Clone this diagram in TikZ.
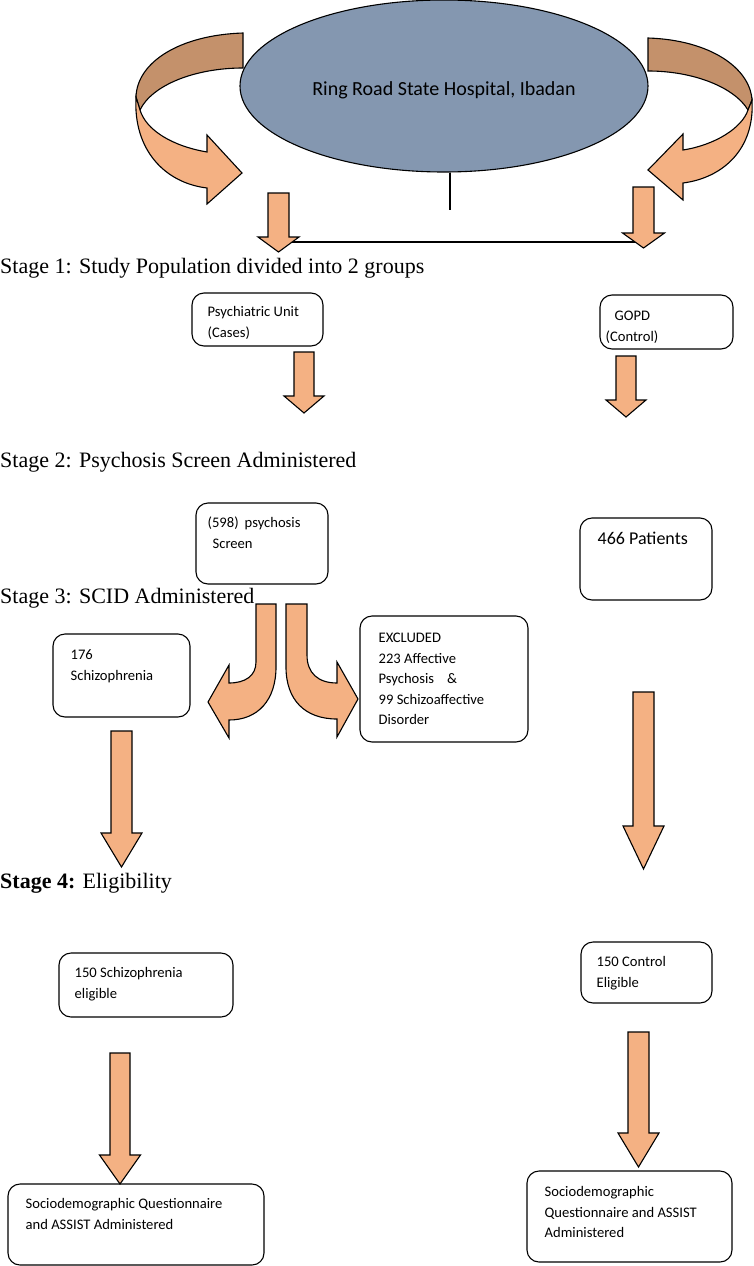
\documentclass[tikz,border=0pt]{standalone}
\usepackage{fontspec}
\setmainfont{Liberation Serif}
\newfontfamily\calibri{Carlito}
\usetikzlibrary{shapes.geometric}
\definecolor{hospblue}{HTML}{8497B0}
\definecolor{arrowfill}{HTML}{F4B183}
\definecolor{arrowback}{HTML}{C4916B}
% straight block arrow: x, top, head start, tip, half shaft, half head
\newcommand{\blockdown}[6]{\filldraw[blockarrow] (#1-#5,#2) -- (#1+#5,#2) -- (#1+#5,#3) -- (#1+#6,#3) -- (#1,#4) -- (#1-#6,#3) -- (#1-#5,#3) -- cycle;}
\tikzset{
  blockarrow/.style={fill=arrowfill,draw=black,line width=1.1pt,line join=miter},
  bandback/.style={fill=arrowback,draw=black,line width=1.1pt},
  stepbox/.style={draw,rounded corners=12pt,line width=1.1pt,inner sep=0pt},
  boxtext/.style={font=\calibri\fontsize{14.6}{20.5}\selectfont,align=left,inner sep=0pt,anchor=north west},
  stagetext/.style={font=\fontsize{22}{26}\selectfont,inner sep=0pt,anchor=base west}
}
\begin{document}
\begin{tikzpicture}[x=1pt,y=-1pt]
\useasboundingbox (0,0) rectangle (753,1266);
% hospital and the two curved arrows
\node[draw,ellipse,fill=hospblue,minimum width=408pt,minimum height=172pt,inner sep=0pt,line width=1.1pt,font=\calibri\fontsize{20}{24}\selectfont] (hospital) at (444,86) {\raisebox{-9pt}[0pt][0pt]{Ring Road State Hospital, Ibadan}};
\filldraw[bandback] (243,33) .. controls (180,35) and (137,62) .. (136,97) -- (140,110) .. controls (152,85) and (195,68) .. (243,68) -- cycle;
\filldraw[blockarrow] (136,97) .. controls (133,150) and (165,183) .. (207,188) -- (207,204) -- (242,173) -- (207,135) -- (207,152) .. controls (172,146) and (146,130) .. (140,110) -- cycle;
\filldraw[bandback] (648,38) .. controls (710,40) and (750,68) .. (752,100) -- (748,110) .. controls (735,88) and (695,71) .. (648,71) -- cycle;
\filldraw[blockarrow] (752,100) .. controls (755,150) and (722,178) .. (683,183) -- (683,200) -- (648,170) -- (683,134) -- (683,150) .. controls (715,145) and (742,128) .. (748,110) -- cycle;
% split line
\coordinate (split) at (450,210);
\draw[line width=1.1pt] (hospital.south -| split) -- (split);
\coordinate (leftbar) at (292,242);
\coordinate (rightbar) at (635,242);
\draw[line width=1.1pt] (leftbar) -- (rightbar);
\blockdown{278.5}{193}{237}{252}{10.5}{20.5}
\blockdown{643.5}{187}{233}{248}{10.5}{21}
% stages
\node[stagetext] (stage1) at (0,273) {Stage 1: Study Population divided into 2 groups};
\node[stagetext] (stage2) at (0,467) {Stage 2: Psychosis Screen Administered};
\node[stagetext] (stage3) at (0,603) {Stage 3: SCID Administered};
\node[stagetext] (stage4) at (0,888) {\textbf{Stage 4:} Eligibility};
% boxes
\node[stepbox,minimum width=131pt,minimum height=53pt] (psych) at (257.5,319.5) {};
\node[boxtext] (psychtext) at ([shift={(16,9.65)}]psych.north west) {\strut Psychiatric Unit\\(Cases)};
\node[stepbox,minimum width=133pt,minimum height=54pt] (gopd) at (666.5,322) {};
\node[boxtext] (gopdtext) at ([shift={(6,11.65)}]gopd.north west) {\strut\hspace*{9pt}GOPD\\(Control)};
\blockdown{304}{352}{396}{413}{10}{20}
\blockdown{626}{356}{400}{417}{10}{20}
\node[stepbox,minimum width=132pt,minimum height=81pt] (screen) at (262,543.5) {};
\node[boxtext] (screentext) at ([shift={(12,10.65)}]screen.north west) {\strut(598)\hspace{6pt}psychosis\\\hspace*{5pt}Screen};
\node[stepbox,minimum width=132pt,minimum height=82pt] (patients) at (646,559) {};
\node[boxtext,font=\calibri\fontsize{18}{20.5}\selectfont] (patientstext) at ([shift={(18,12.5)}]patients.north west) {\strut 466 Patients};
% curved arrows out of the screen
\filldraw[blockarrow] (256,604) -- (256,662) .. controls (256,676) and (245,683) .. (229,683) -- (229,665) -- (208,702) -- (229,738) -- (229,720) .. controls (258,720) and (276,700) .. (276,667) -- (276,604) -- cycle;
\filldraw[blockarrow] (286,604) -- (286,667) .. controls (286,700) and (305,719) .. (337,719) -- (337,737) -- (358,699) -- (337,662) -- (337,683) .. controls (318,683) and (307,673) .. (307,655) -- (307,604) -- cycle;
\node[stepbox,minimum width=137pt,minimum height=83pt] (schizo) at (121.5,675.5) {};
\node[boxtext] (schizotext) at ([shift={(18,11.65)}]schizo.north west) {\strut 176\\Schizophrenia};
\node[stepbox,minimum width=168pt,minimum height=126pt] (excluded) at (444,679) {};
\node[boxtext] (excludedtext) at ([shift={(19,12.65)}]excluded.north west) {\strut EXCLUDED\\223 Affective\\Psychosis\hspace{13pt}\&\\99 Schizoaffective\\Disorder};
\blockdown{121.5}{731}{833}{867}{10.5}{20.5}
\blockdown{643.5}{692}{826}{869}{10.5}{20.5}
\node[stepbox,minimum width=174pt,minimum height=64pt] (eligs) at (146,985) {};
\node[boxtext] (eligstext) at ([shift={(16,10.65)}]eligs.north west) {\strut 150 Schizophrenia\\eligible};
\node[stepbox,minimum width=131pt,minimum height=61pt] (eligc) at (646.5,972.5) {};
\node[boxtext] (eligctext) at ([shift={(16,10.65)}]eligc.north west) {\strut 150 Control\\Eligible};
\blockdown{120}{1053}{1155}{1184}{10}{20.5}
\blockdown{638.5}{1032}{1133}{1167}{10.5}{20.5}
\node[stepbox,minimum width=256pt,minimum height=81pt] (sociol) at (136,1224.5) {};
\node[boxtext] (socioltext) at ([shift={(18,10.65)}]sociol.north west) {\strut Sociodemographic Questionnaire\\and ASSIST Administered};
\node[stepbox,minimum width=205pt,minimum height=91pt] (socior) at (629.5,1216.5) {};
\node[boxtext] (sociortext) at ([shift={(18,11.65)}]socior.north west) {\strut Sociodemographic\\Questionnaire and ASSIST\\Administered};
\end{tikzpicture}
\end{document}
